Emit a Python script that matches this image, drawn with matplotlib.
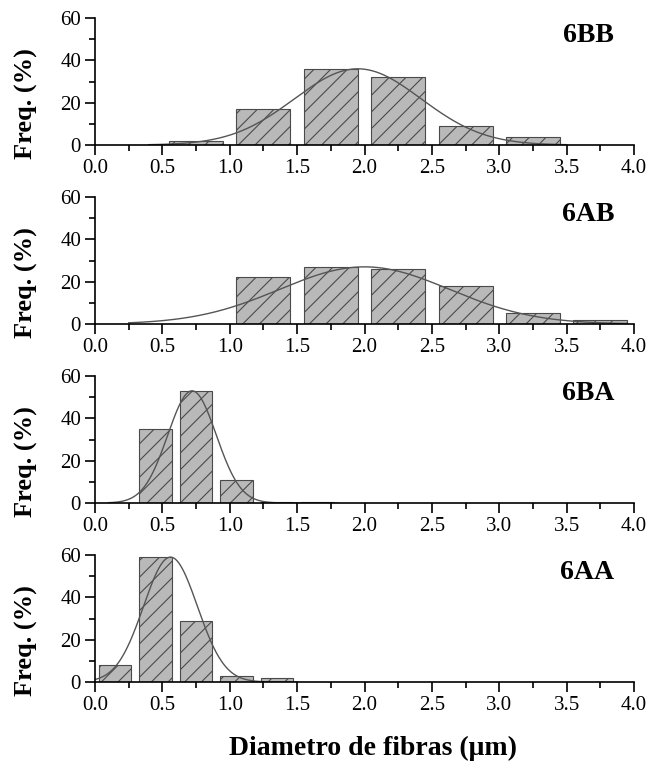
import numpy as np
import matplotlib
matplotlib.use("Agg")
import matplotlib.pyplot as plt
from matplotlib.ticker import MultipleLocator

plt.rcParams['font.family'] = ['Liberation Serif', 'DejaVu Serif']
plt.rcParams['hatch.color'] = '#4a4a4a'
plt.rcParams['hatch.linewidth'] = 0.8

# Histogram data (bin centres, frequencies in %)
bb_x = [0.75, 1.25, 1.75, 2.25, 2.75, 3.25]
bb_y = [2, 17, 36, 32, 9, 4]
ab_x = [1.25, 1.75, 2.25, 2.75, 3.25, 3.75]
ab_y = [22, 27, 26, 18, 5, 2]
ba_x = [0.45, 0.75, 1.05, 1.35, 1.65]
ba_y = [35, 53, 11, 0.5, 0.5]
aa_x = [0.15, 0.45, 0.75, 1.05, 1.35]
aa_y = [8, 59, 29, 3, 2]

# Gaussian fit parameters: centre, sigma, amplitude, curve range
bb_fit = (1.95, 0.47, 36, 0.4, 3.5)
ab_fit = (2.0, 0.63, 27, 0.25, 3.95)
ba_fit = (0.72, 0.18, 53, 0.1, 1.8)
aa_fit = (0.56, 0.20, 59, 0.0, 1.5)

panels = [
    ("6BB", bb_x, bb_y, 0.4, bb_fit),
    ("6AB", ab_x, ab_y, 0.4, ab_fit),
    ("6BA", ba_x, ba_y, 0.24, ba_fit),
    ("6AA", aa_x, aa_y, 0.24, aa_fit),
]

fig = plt.figure(figsize=(6.62, 7.70), dpi=100)
left, width, height = 95 / 662, 539 / 662, 127 / 770
bottoms = [625 / 770, 446 / 770, 267 / 770, 88 / 770]

for (name, xs, ys, bw, fit), b in zip(panels, bottoms):
    ax = fig.add_axes([left, b, width, height])
    ax.bar(xs, ys, width=bw, color='#b9b9b9', edgecolor='#4a4a4a',
           linewidth=0.8, hatch='//', zorder=2)
    xc, s, a, x0, x1 = fit
    xf = np.linspace(x0, x1, 300)
    ax.plot(xf, a * np.exp(-(xf - xc) ** 2 / (2 * s ** 2)),
            color='#555555', lw=1.0, zorder=3)
    ax.set_xlim(0, 4)
    ax.set_ylim(0, 60)
    ax.xaxis.set_major_locator(MultipleLocator(0.5))
    ax.xaxis.set_minor_locator(MultipleLocator(0.25))
    ax.yaxis.set_major_locator(MultipleLocator(20))
    ax.yaxis.set_minor_locator(MultipleLocator(10))
    ax.xaxis.set_major_formatter(lambda v, p: f"{v:.1f}")
    for sp in ['top', 'right']:
        ax.spines[sp].set_visible(False)
    for sp in ['left', 'bottom']:
        ax.spines[sp].set_linewidth(1.2)
        ax.spines[sp].set_zorder(4)
    ax.tick_params(which='major', length=7, width=1.2, labelsize=15, pad=3)
    ax.tick_params(which='minor', length=4, width=1.2)
    ax.set_ylabel("Freq. (%)", fontsize=19, fontweight='bold')
    ax.yaxis.set_label_coords(-0.106, 0.33)
    ax.text(0.963, 0.86, name, transform=ax.transAxes, ha='right', va='center',
            fontsize=20, fontweight='bold')

fig.text(373 / 662, 22 / 770, "Diametro de fibras (\u03bcm)", ha='center', va='center',
         fontsize=20, fontweight='bold')

fig.savefig("out.png", dpi=100)
